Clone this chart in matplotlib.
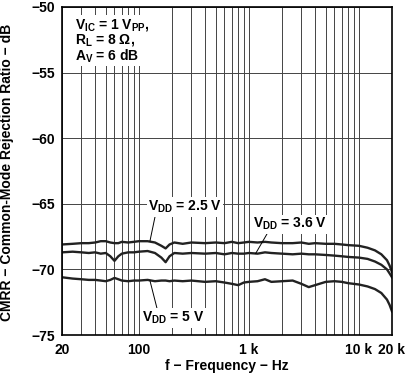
import numpy as np
import matplotlib
matplotlib.use('Agg')
import matplotlib.pyplot as plt
from matplotlib.ticker import FixedLocator, LogLocator, NullFormatter

plt.rcParams['font.family'] = ['Liberation Sans', 'DejaVu Sans']
plt.rcParams['font.weight'] = 'bold'
plt.rcParams['mathtext.fontset'] = 'custom'
plt.rcParams['mathtext.rm'] = 'Liberation Sans:bold'
plt.rcParams['mathtext.bf'] = 'Liberation Sans:bold'
plt.rcParams['mathtext.it'] = 'Liberation Sans:bold'

# Frecuencias (Hz) y CMRR (dB)
freq = [20, 25, 30, 35, 40, 45, 50, 55, 60, 65, 70, 80, 90, 100, 120, 140,
        160, 175, 190, 210, 250, 300, 400, 500, 600, 700, 800, 900, 1000,
        1200, 1400, 1600, 2000, 2500, 3000, 3500, 4000, 5000, 6000, 7000,
        8000, 10000, 12000, 14000, 16000, 18000, 19000, 20000]

cmrr_25v = [-68.1, -68.05, -68.0, -68.0, -67.95, -67.85, -67.85, -67.95, -68.0,
            -68.0, -67.9, -67.95, -67.9, -67.85, -67.85, -67.95, -68.2, -68.4,
            -68.1, -67.95, -68.05, -67.95, -68.0, -67.95, -68.0, -67.9, -68.0,
            -67.95, -67.9, -67.95, -67.9, -67.95, -68.0, -68.0, -67.95, -68.05,
            -68.0, -68.05, -68.05, -68.1, -68.15, -68.2, -68.35, -68.55, -68.85,
            -69.3, -69.7, -70.2]

cmrr_36v = [-68.7, -68.65, -68.7, -68.75, -68.7, -68.8, -68.75, -69.0, -69.35,
            -69.0, -68.8, -68.7, -68.7, -68.65, -68.6, -68.75, -69.1, -69.45,
            -69.0, -68.75, -68.8, -68.75, -68.8, -68.75, -68.85, -68.75, -68.8,
            -68.8, -68.75, -68.8, -68.7, -68.75, -68.8, -68.85, -68.8, -68.85,
            -68.85, -68.9, -68.95, -69.0, -69.05, -69.1, -69.2, -69.4, -69.65,
            -70.0, -70.3, -70.6]

cmrr_5v = [-70.6, -70.7, -70.75, -70.8, -70.8, -70.85, -70.9, -70.8, -70.65,
           -70.75, -70.85, -70.9, -70.85, -70.85, -70.8, -70.9, -70.85, -70.85,
           -70.9, -70.85, -70.9, -70.85, -70.95, -70.9, -71.0, -71.1, -71.2,
           -71.0, -70.95, -70.9, -70.75, -70.95, -70.9, -70.85, -71.1, -71.35,
           -71.2, -70.95, -70.9, -70.95, -71.05, -71.15, -71.3, -71.5, -71.8,
           -72.3, -72.7, -73.2]

x_ticks = [20, 100, 1000, 10000, 20000]
x_labels = ['20', '100', '1 k', '10 k', '20 k']
y_ticks = [-75, -70, -65, -60, -55, -50]

fig = plt.figure(figsize=(4.08, 3.75), dpi=100)
ax = fig.add_axes([62 / 408, 40 / 375, 330 / 408, 328 / 375])

ax.set_xscale('log')
ax.set_xlim(20, 20000)
ax.set_ylim(-75, -50)

# Rejilla
ax.xaxis.set_major_locator(FixedLocator(x_ticks))
ax.xaxis.set_minor_locator(LogLocator(base=10, subs=np.arange(2, 10)))
ax.xaxis.set_minor_formatter(NullFormatter())
ax.set_xticks(x_ticks)
ax.set_xticklabels(x_labels)
ax.set_yticks(y_ticks)
ax.set_yticklabels(['\u2212' + str(abs(v)) for v in y_ticks])
ax.grid(True, which='both', axis='x', color='#444444', linewidth=0.7)
ax.grid(True, which='major', axis='y', color='#444444', linewidth=0.7)
ax.tick_params(which='both', length=0, labelsize=10)
ax.tick_params(axis='x', pad=6)
ax.tick_params(axis='y', pad=5)
for s in ax.spines.values():
    s.set_linewidth(1.2)

# Curvas
for vals in (cmrr_25v, cmrr_36v, cmrr_5v):
    ax.plot(freq, vals, color='#222222', linewidth=1.7)

ax.set_xlabel('f \u2212 Frequency \u2212 Hz', fontsize=10, fontweight='bold', va='center')
ax.xaxis.set_label_coords(0.5, -0.094)
ax.set_ylabel('CMRR \u2212 Common-Mode Rejection Ratio \u2212 dB', fontsize=10,
              fontweight='bold', va='center')
ax.yaxis.set_label_coords(-0.168, 0.495)

ax.text(0.04, 0.97, '$\\mathbf{V_{IC}}$ = 1 $\\mathbf{V_{PP}}$,\n$\\mathbf{R_L}$ = 8 \u03a9,\n$\\mathbf{A_V}$ = 6 dB',
        transform=ax.transAxes, fontsize=10, va='top', ha='left', linespacing=0.95,
        bbox=dict(facecolor='white', edgecolor='none', pad=1))

box = dict(facecolor='white', edgecolor='none', pad=1)
arrow = dict(arrowstyle='-', color='black', linewidth=0.7, shrinkA=0, shrinkB=0)
ax.annotate('$\\mathbf{V_{DD}}$ = 2.5 V', xy=(126, -67.85), xytext=(262, -65.25),
            fontsize=10, ha='center', va='center', bbox=box,
            arrowprops=dict(arrow, relpos=(0.1, 0.0)))
ax.annotate('$\\mathbf{V_{DD}}$ = 3.6 V', xy=(1150, -68.8), xytext=(2370, -66.55),
            fontsize=10, ha='center', va='center', bbox=box,
            arrowprops=dict(arrow, relpos=(0.2, 0.0)))
ax.annotate('$\\mathbf{V_{DD}}$ = 5 V', xy=(126, -70.85), xytext=(204, -73.7),
            fontsize=10, ha='center', va='center', bbox=box,
            arrowprops=dict(arrow, relpos=(0.25, 1.0)))

fig.savefig('out.png', dpi=100)
